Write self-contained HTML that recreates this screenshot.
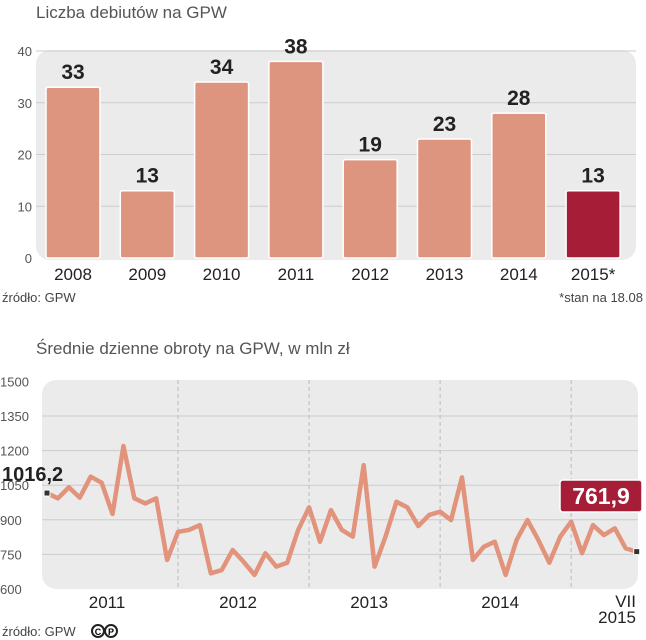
<!DOCTYPE html>
<html><head><meta charset="utf-8"><style>
body{margin:0;background:#fff;width:646px;height:640px;overflow:hidden}
svg{display:block;font-family:"Liberation Sans",sans-serif}
</style></head><body>
<svg id="s" width="646" height="640" viewBox="0 0 646 640">
<text x="36" y="18" font-size="17" fill="#555">Liczba debiutów na GPW</text>
<rect x="36" y="50" width="600" height="210" rx="14" fill="#ebebeb"/>
<g id="bg"></g>
<text x="2" y="302" font-size="13" fill="#444">źródło: GPW</text>
<text x="643" y="302" font-size="13" fill="#444" text-anchor="end">*stan na 18.08</text>
<text x="36" y="354" font-size="17" fill="#555">Średnie dzienne obroty na GPW, w mln zł</text>
<rect x="42" y="380" width="596" height="209" rx="14" fill="#ebebeb"/>
<g id="lg"></g>
<text x="2" y="636" font-size="13" fill="#444">źródło: GPW</text>
<g><circle cx="98" cy="631" r="6" fill="none" stroke="#222" stroke-width="2"/><text x="98" y="635" font-size="9" font-weight="bold" text-anchor="middle">C</text><circle cx="111" cy="631" r="6" fill="none" stroke="#222" stroke-width="2"/><text x="111" y="635" font-size="9" font-weight="bold" text-anchor="middle">P</text></g>
</svg>
<script>
const barCats=["2008","2009","2010","2011","2012","2013","2014","2015*"];
const barVals=[33,13,34,38,19,23,28,13];
const barTicks=[0,10,20,30,40];
const lineVals=[1016,993,1041,996,1087,1061,925,1220,993,971,993,726,848,856,877,668,682,769,718,661,755,697,714,856,954,805,942,856,827,1137,697,827,978,954,873,921,935,899,1084,726,783,805,661,812,899,812,714,827,892,755,877,834,863,776,762];
const lineTicks=[600,750,900,1050,1200,1350,1500];
const lineYears=["2011","2012","2013","2014"];
const NS="http://www.w3.org/2000/svg";
function mk(p,t,a,txt){const e=document.createElementNS(NS,t);for(const k in a)e.setAttribute(k,a[k]);if(txt!==undefined)e.textContent=txt;p.appendChild(e);return e;}
const bg=document.getElementById('bg');
const by=v=>258-v*5.175, bx=i=>46+i*74.3;
barTicks.forEach(t=>{
 if(t>0){const l=mk(bg,'line',{x1:36,x2:636,y1:by(t),y2:by(t),stroke:'#ccc','stroke-width':1});
 
 }
 const tx=mk(bg,'text',{x:32,y:by(t)+5,'font-size':13,fill:'#555','text-anchor':'end'},t);
 
 
});
barVals.forEach((v,i)=>{
 const last=i===barVals.length-1;
 const r=mk(bg,'rect',{x:bx(i),y:by(v),width:54,height:by(0)-by(v),rx:2,fill:last?'#a51d36':'#dd9580',stroke:'#fff','stroke-width':1.5});
 
 
 const t=mk(bg,'text',{x:bx(i)+27,y:by(v)-8,'font-size':21,'font-weight':'bold',fill:'#222','text-anchor':'middle'},v);
 
 
 const c=mk(bg,'text',{x:bx(i)+27,y:280,'font-size':17,fill:'#222','text-anchor':'middle'},barCats[i]);
 
 
});
const lg=document.getElementById('lg');
const ly=v=>589-(v-600)*34.6/150, lx=i=>47+i*10.92;
lineTicks.forEach(t=>{
 if(t>600&&t<1500){const l=mk(lg,'line',{x1:42,x2:638,y1:ly(t),y2:ly(t),stroke:'#ccc','stroke-width':1});
 
 }
 const tx=mk(lg,'text',{x:0,y:ly(t)+5,'font-size':13,fill:'#555'},t);
 
 
});
lineYears.forEach((y,k)=>{
 const xs=lx(12*(k+1));
 const l=mk(lg,'line',{x1:xs,x2:xs,y1:380,y2:589,stroke:'#bbb','stroke-dasharray':'4,3'});
 
 
 const t=mk(lg,'text',{x:lx(12*k+5.5),y:608,'font-size':17,fill:'#222','text-anchor':'middle'},y);
 
 
});
const tv=mk(lg,'text',{x:636,y:607,'font-size':17,fill:'#222','text-anchor':'end'},'VII');


const tv2=mk(lg,'text',{x:636,y:623,'font-size':17,fill:'#222','text-anchor':'end'},'2015');


const pl=mk(lg,'polyline',{points:lineVals.map((v,i)=>lx(i)+','+ly(v)).join(' '),fill:'none',stroke:'#e2937c','stroke-width':4.5,'stroke-linejoin':'round'});


const n=lineVals.length-1;
const m1=mk(lg,'rect',{x:lx(0)-3,y:ly(lineVals[0])-3,width:6,height:6,fill:'#333',stroke:'#fff'});


const m2=mk(lg,'rect',{x:lx(n)-3,y:ly(lineVals[n])-3,width:6,height:6,fill:'#333',stroke:'#fff'});


const s1=mk(lg,'text',{x:2,y:ly(lineVals[0])-12,'font-size':20,'font-weight':'bold',fill:'#222'},'1016,2');


const bx2=mk(lg,'rect',{x:560,y:480,width:82,height:32,rx:3,fill:'#a51d36',stroke:'#fff','stroke-width':1.5});


const s2=mk(lg,'text',{x:601,y:504,'font-size':23,'font-weight':'bold',fill:'#fff','text-anchor':'middle'},'761,9');


</script>
</body></html>
